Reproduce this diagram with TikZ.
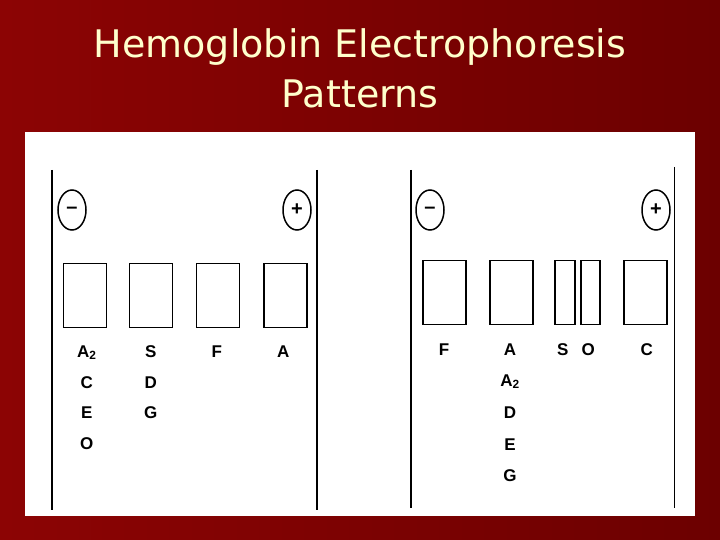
\documentclass[tikz,border=0pt]{standalone}
\usepackage{fontspec}
\setmainfont{Liberation Sans}
\newfontfamily\titlefont{DejaVu Sans}
\usetikzlibrary{positioning,shapes.geometric}
\definecolor{slidered}{RGB}{140,4,4}
\definecolor{slidedark}{RGB}{108,0,0}
\definecolor{titlecream}{RGB}{255,255,204}

\tikzset{
  gel/.style={draw,line width=1.8pt,minimum width=43pt,minimum height=64pt,inner sep=0pt},
  slot/.style={gel,minimum width=20pt},
  pole/.style={draw,ellipse,line width=1.5pt,minimum width=28pt,minimum height=40pt,inner sep=0pt,font=\bfseries\fontsize{20}{20}\selectfont},
  band/.style={font=\bfseries\fontsize{17}{17}\selectfont,inner sep=0pt,anchor=base},
  edge/.style={line width=1.9pt},
}

\begin{document}
\begin{tikzpicture}[x=1pt,y=-1pt]
\fill[left color=slidered,right color=slidedark] (0,0) rectangle (720,540);
\fill[white] (25,132) rectangle (695,516);
\node[font=\titlefont\fontsize{38}{38}\selectfont,text=titlecream,anchor=base] (title1) at (360,58) {Hemoglobin Electrophoresis};
\node[font=\titlefont\fontsize{38}{38}\selectfont,text=titlecream,anchor=base] (title2) at (360,108) {Patterns};

% left pattern
\coordinate (L1) at (51.7,170);
\coordinate (L2) at (51.7,510);
\coordinate (R1) at (316.7,170);
\coordinate (R2) at (316.7,510);
\draw[edge] (L1)--(L2);
\draw[edge] (R1)--(R2);
\node[pole] (neg1) at (72,210) {–};
\node[pole] (pos1) at (297,210) {+};
\node[gel] (w1) at (85,295.5) {};
\node[gel] (w2) at (151,295.5) {};
\node[gel] (w3) at (218,295.5) {};
\node[gel] (w4) at (285.7,295.5) {};
\node[band] (a2) at (86.7,357) {A\textsubscript{2}};
\node[band] (c) at (86.7,388) {C};
\node[band] (e) at (86.7,418) {E};
\node[band] (o) at (86.7,449) {O};
\node[band] (s) at (150.7,357) {S};
\node[band] (d) at (150.7,388) {D};
\node[band] (g) at (150.7,418) {G};
\node[band] (f) at (216.7,357) {F};
\node[band] (a) at (283.3,357) {A};

% right pattern
\coordinate (L3) at (411,170);
\coordinate (L4) at (411,508);
\coordinate (R3) at (674.5,167);
\coordinate (R4) at (674.5,508);
\draw[edge] (L3)--(L4);
\draw[edge] (R3)--(R4);
\node[pole] (neg2) at (430,210) {–};
\node[pole] (pos2) at (656,210) {+};
\node[gel] (v1) at (444.3,292.4) {};
\node[gel] (v2) at (511.3,292.4) {};
\node[slot] (v3) at (565.2,292.4) {};
\node[slot,minimum width=19pt] (v4) at (590.5,292.4) {};
\node[gel] (v5) at (645.3,292.4) {};
\node[band] (f2) at (444,355) {F};
\node[band] (a3) at (510,355) {A};
\node[band] (a4) at (510,386) {A\textsubscript{2}};
\node[band] (d2) at (510,418) {D};
\node[band] (e2) at (510,450) {E};
\node[band] (g2) at (510,481) {G};
\node[band] (s2) at (562.7,355) {S};
\node[band] (o2) at (588.3,355) {O};
\node[band] (c2) at (646.7,355) {C};
\end{tikzpicture}
\end{document}
